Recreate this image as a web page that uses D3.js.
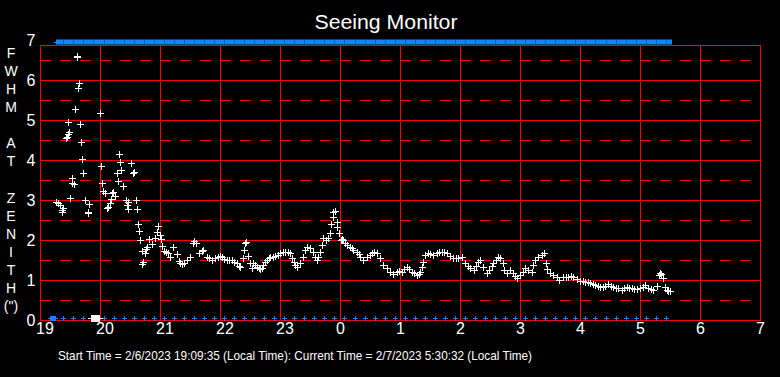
<!DOCTYPE html>
<html><head><meta charset="utf-8">
<script src="https://cdn.jsdelivr.net/npm/d3@7"></script>
<style>
html,body{margin:0;padding:0;background:#000;}
svg{display:block;}
text{font-family:"Liberation Sans",Arial,Helvetica,sans-serif;fill:#fff;}
</style></head>
<body>
<svg id="chart" width="780" height="377"></svg>
<script>
// ---------------- DATA ----------------
const titleText = "Seeing Monitor";
const footerText = "Start Time = 2/6/2023 19:09:35 (Local Time): Current Time = 2/7/2023 5:30:32 (Local Time)";
const yAxisTitle = ["F","W","H","M","","A","T","","Z","E","N","I","T","H","(\")"];
const xTickMinutes = [0,60,120,180,240,300,360,420,480,540,600,660,720];
const xTickLabels = ["19","20","21","22","23","0","1","2","3","4","5","6","7"];
const yTicks = [0,1,2,3,4,5,6,7];
const yHalfTicks = [0.5,1.5,2.5,3.5,4.5,5.5,6.5];

// minutes after 19:00 local time
const sampleMinutes = [16.5,18,20,21.5,22,23.3,25.7,26.5,27.7,28.3,29.3,30.3,31.7,32.3,33.5,34.3,35.3,36.7,37.3,38.3,39.3,40.3,41.3,42.3,43.3,45.3,47.7,48.3,49.3,
 50.5,51.5,52.5,53.5,54.5,55.5,56.5,57.5,58.5,
 60.3,61.3,62.3,63.3,65.3,66.7,67.5,69.7,70.7,71.7,73,75.3,76.7,78.3,79.3,80.3,81.3,83,86,87.3,87.8,88.3,91.3,92.7,93.5,96.3,97.3,98.3,99.3,
 100.3,101.7,102.3,103.3,104.7,105.7,106.7,109,111.7,114.7,117.3,118.3,120,120.7,122,124,126,128.3,130,133.3,136.7,138.5,140,141.7,144,147,150,153,154,155.5,159.3,161.5,163.3,166.7,169,171.7,175,177.5,180,181.7,184,186.7,189,191.7,194,196.7,198.5,
 200,202.7,204,205,205.7,208.3,210,211.7,213.3,215,216.7,218.5,220,221.5,223.3,225,226.7,228.5,230,232.5,235,237.5,240,242.5,245,248.3,250,251.7,253.5,255,257.3,260,262.7,265,267.3,270,273.3,275,276.7,278.3,280,281.7,283.3,286,288.3,290,290.7,292.7,293.3,295,296.7,297.3,299.3,
 300.7,302,303.3,305,306.7,310,311.5,313.3,316.7,318.5,320,323.3,326.7,330,332,334,336.7,340,343.3,346.7,350,353.3,356.7,359,361.7,364,366.7,369,371.7,374,376.7,378.5,380,381.7,382.7,385,388.3,390.5,393.3,396.7,399,
 401.7,404,406.7,410,413.3,416,418.3,421.7,425,427.5,430,434,436,438.3,440,443.3,446.7,449.3,451.5,453.3,456,458.3,460,462.7,464,466.7,470,473.3,475,476.7,480,482.5,485,488.3,491.7,493.3,495,498.3,
 501.7,504,505.7,506.7,510,513.3,516.7,519.3,523.3,526,528.3,531,533.3,536.7,540,542.5,545,547.5,550,552.5,555,557.5,560,562.5,565,568.3,571,573.3,576,578.3,581.7,584,586.7,589,591.7,594,596.7,
 600,602.5,605,608.3,610.5,613.3,616.7,619,620,621,622.7,625,626.5,628.3,630];
const fwhmValues = [2.96,2.93,2.88,2.75,2.69,2.79,4.54,4.58,4.65,4.94,4.71,3.04,3.42,3.55,3.40,3.39,5.27,6.58,6.60,5.79,5.92,4.89,4.44,4.02,3.67,2.99,2.71,2.68,2.89,
 0,0,0,0,0,0,0,0,0,
 5.17,3.84,3.42,3.22,3.17,2.79,2.83,2.92,3.02,3.18,3.20,3.09,3.67,3.47,4.14,3.94,3.74,3.34,3.01,2.87,2.77,2.96,3.92,3.67,3.70,2.99,2.77,2.39,2.22,
 1.99,1.72,1.39,1.46,1.67,1.77,1.83,2.02,1.89,2.04,2.21,2.34,2.12,2.02,1.85,1.73,1.70,1.67,1.58,1.82,1.64,1.48,1.42,1.39,1.43,1.50,1.57,1.93,1.98,1.92,1.67,1.72,1.75,1.58,1.55,1.50,1.54,1.57,1.60,1.58,1.52,1.50,1.50,1.50,1.46,1.42,1.36,
 1.33,1.54,1.75,1.92,1.96,1.60,1.42,1.29,1.42,1.38,1.33,1.29,1.27,1.31,1.37,1.44,1.50,1.54,1.57,1.58,1.60,1.63,1.67,1.69,1.71,1.71,1.67,1.54,1.45,1.37,1.33,1.42,1.58,1.75,1.83,1.79,1.71,1.57,1.50,1.58,1.71,1.87,2.04,2.00,2.04,2.17,2.39,2.71,2.58,2.73,2.46,2.32,2.17,
 2.00,2.02,2.00,1.93,1.87,1.83,1.79,1.75,1.71,1.64,1.58,1.50,1.57,1.62,1.67,1.71,1.67,1.54,1.37,1.29,1.21,1.15,1.21,1.22,1.21,1.27,1.33,1.27,1.21,1.17,1.12,1.16,1.21,1.33,1.46,1.62,1.68,1.66,1.62,1.67,1.70,
 1.71,1.69,1.67,1.60,1.54,1.54,1.54,1.57,1.42,1.35,1.29,1.25,1.35,1.46,1.50,1.33,1.18,1.25,1.34,1.42,1.50,1.57,1.54,1.42,1.25,1.17,1.25,1.17,1.10,1.04,1.12,1.21,1.29,1.25,1.21,1.37,1.50,1.58,
 1.62,1.67,1.43,1.27,1.18,1.12,1.08,1.00,1.07,1.08,1.08,1.09,1.08,1.02,0.98,0.97,0.96,0.95,0.93,0.90,0.88,0.85,0.82,0.83,0.85,0.90,0.86,0.82,0.80,0.79,0.75,0.80,0.83,0.81,0.79,0.78,0.77,
 0.79,0.83,0.88,0.79,0.77,0.75,0.85,1.12,1.18,1.15,1.04,0.83,0.76,0.73,0.72];

// blue status markers (minutes after 19:00)
const statusLowMinutes = [10,11,12,13,14,15,
 23.3,33.3,43.4,53.4,63.5,73.5,83.5,93.6,103.6,113.7,123.7,133.7,143.8,153.8,163.9,173.9,183.9,194,204,214.1,224.1,234.1,244.2,254.2,264.3,274.3,284.3,294.4,304.4,314.5,324.5,334.5,344.6,354.6,
 364.7,374.7,384.7,394.8,404.8,414.9,424.9,434.9,445,455,465.1,475.1,485.1,495.2,505.2,515.3,525.3,535.3,545.4,555.4,565.5,575.5,585.5,595.6,605.6,615.7,625.7];
const statusHighStart = 16;
const statusHighEnd = 632;

// ---------------- CHART ----------------
const svg = d3.select("#chart");
const x = d3.scaleLinear().domain([0, 720]).range([40, 760]);
const y = d3.scaleLinear().domain([0, 7]).range([320, 40]);
const px = v => Math.round(v) + 0.5;
const red = "#ff0000", blue = "#1585ff";
const tickFont = '"Liberation Sans Narrow","Arial Narrow","Liberation Sans",Arial,sans-serif';

svg.append("rect").attr("width",780).attr("height",377).attr("fill","#000");

// title
svg.append("text").attr("x",386).attr("y",29).attr("text-anchor","middle")
  .style("font-size","20.5px").attr("textLength",143).attr("lengthAdjust","spacingAndGlyphs").text(titleText);

// grid
const grid = svg.append("g").attr("stroke", red).attr("stroke-width",1).attr("shape-rendering","crispEdges");
grid.selectAll(".hd").data(yHalfTicks).join("line")
  .attr("x1", x(0)).attr("x2", x(720)).attr("y1", d=>px(y(d))).attr("y2", d=>px(y(d)))
  .attr("stroke-dasharray","11,9");
grid.selectAll(".hs").data(yTicks.filter(d=>d<7)).join("line")
  .attr("x1", x(0)).attr("x2", x(720)+1).attr("y1", d=>px(y(d))).attr("y2", d=>px(y(d)));
grid.append("line").attr("x1", x(0)).attr("x2", x(720)+1).attr("y1", 45.5).attr("y2", 45.5);
grid.selectAll(".vs").data(xTickMinutes).join("line")
  .attr("x1", d=>px(x(d))).attr("x2", d=>px(x(d))).attr("y1", 45).attr("y2", y(0)+1);

// axes (labels only)
const xAxis = d3.axisBottom(x).tickValues(xTickMinutes).tickFormat((d,i)=>xTickLabels[i]).tickSize(0).tickPadding(3);
const gx = svg.append("g").attr("transform",`translate(0,${y(0)})`).call(xAxis);
gx.select(".domain").remove();
gx.selectAll("text").style("font-size","16px").attr("fill","#fff").attr("text-anchor","start").attr("x",-4.5)
  .style("font-family",tickFont);

const yAxis = d3.axisLeft(y).tickValues(yTicks).tickFormat(d3.format("d")).tickSize(0).tickPadding(5);
const gy = svg.append("g").attr("transform",`translate(${x(0)},0)`).call(yAxis);
gy.select(".domain").remove();
gy.selectAll("text").style("font-size","16px").attr("fill","#fff").attr("text-anchor","middle").attr("x",-9)
  .style("font-family",tickFont);

// vertical y axis title
svg.append("g").selectAll("text").data(yAxisTitle).join("text")
  .attr("x",11).attr("y",(d,i)=>53 + i*18.07).attr("dy","0.36em").attr("text-anchor","middle")
  .style("font-size","14px").text(d=>d);

// footer
svg.append("text").attr("x",58).attr("y",360).style("font-size","13.5px")
  .attr("textLength",474).attr("lengthAdjust","spacingAndGlyphs").text(footerText);

// blue status bar at top
svg.append("rect").attr("x", x(statusHighStart)).attr("y",39.5)
  .attr("width", x(statusHighEnd)-x(statusHighStart)).attr("height",5).attr("fill",blue);
svg.append("line").attr("x1", x(statusHighStart)-2).attr("x2", x(statusHighStart)).attr("y1",42.5).attr("y2",42.5)
  .attr("stroke",blue);
svg.append("g").selectAll("line").data(statusLowMinutes.filter(d=>d>statusHighStart && d<statusHighEnd)).join("line")
  .attr("x1",d=>px(x(d))).attr("x2",d=>px(x(d))).attr("y1",39.5).attr("y2",44.5)
  .attr("stroke","#0a5cb8").attr("shape-rendering","crispEdges");

// plus helper
function plusPath(cx, cy, r){
  const c = Math.round(cx), m = Math.round(cy);
  return `M${c-r},${m+0.5}H${c+r+1}M${c+0.5},${m-r}V${m+r+1}`;
}

// blue low markers
svg.append("g").selectAll("path").data(statusLowMinutes).join("path")
  .attr("d", d=>plusPath(x(d), y(0)-2, 2)).attr("stroke",blue).attr("stroke-width",1)
  .attr("fill","none").attr("shape-rendering","crispEdges");

// FWHM data (white pluses)
const pts = sampleMinutes.map((m,i)=>({m, v:fwhmValues[i]}));
svg.append("g").selectAll("path").data(pts).join("path")
  .attr("d", d=>plusPath(x(d.m), Math.min(y(d.v), y(0)-2), 3))
  .attr("stroke","#fff").attr("stroke-width",1).attr("fill","none").attr("shape-rendering","crispEdges");
</script>
</body></html>
